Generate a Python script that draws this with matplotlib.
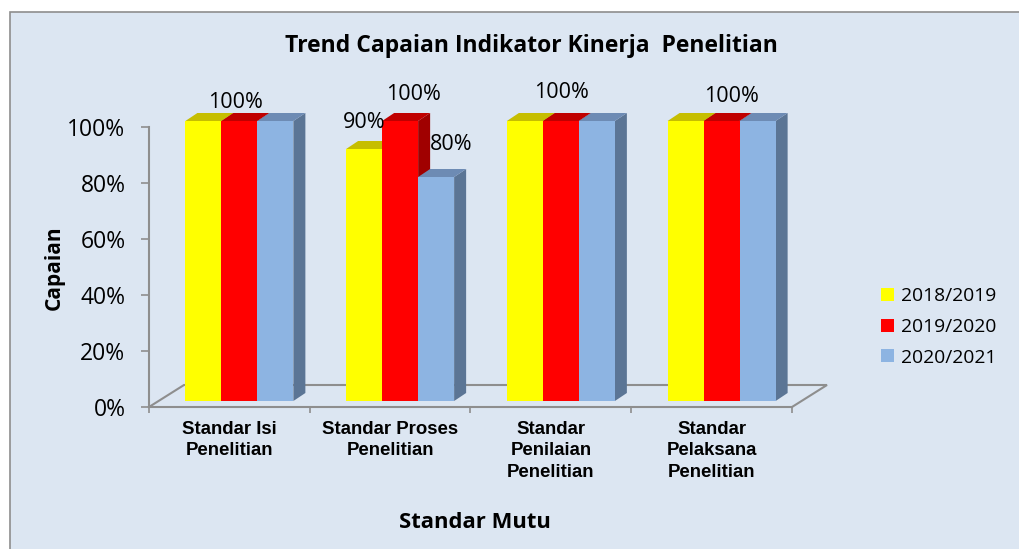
import matplotlib
matplotlib.use('Agg')
import matplotlib.pyplot as plt
from matplotlib.patches import Polygon, Rectangle, Patch

plt.rcParams['font.family'] = ['Open Sans', 'DejaVu Sans']

# data
categories = ['Standar Isi\nPenelitian', 'Standar Proses\nPenelitian',
              'Standar\nPenilaian\nPenelitian', 'Standar\nPelaksana\nPenelitian']
years = ['2018/2019', '2019/2020', '2020/2021']
v_1819 = [1.00, 0.90, 1.00, 1.00]
v_1920 = [1.00, 1.00, 1.00, 1.00]
v_2021 = [1.00, 0.80, 1.00, 1.00]
yticks = [0, 0.2, 0.4, 0.6, 0.8, 1.0]
ytick_labels = ['0%', '20%', '40%', '60%', '80%', '100%']

series = [v_1819, v_1920, v_2021]

# styles: front, top, side colours
colors = [('#FFFF00', '#C6BE00', '#A9A300'),
          ('#FF0000', '#C00000', '#A00000'),
          ('#8DB4E2', '#6D8BB4', '#5B7595')]
gray = '#8E8E8E'
bg = '#DCE6F2'

# which data labels are shown, with pixel offsets from the bar top
label_offsets = {(1, 0): (-4, 19), (0, 1): (0, 26), (1, 1): (13, 26),
                 (2, 1): (15, 32), (1, 2): (1, 28), (1, 3): (10, 25)}

W, H = 1019, 549
fig = plt.figure(figsize=(W / 100, H / 100), dpi=100)
fig.patch.set_facecolor('white')
fig.add_artist(Rectangle((10 / W, -0.05), 1.1, 1 - 12 / H + 0.05,
                         transform=fig.transFigure, facecolor=bg,
                         edgecolor=gray, linewidth=1.2, zorder=0))

ax = fig.add_axes([149 / W, (H - 407) / H, 643 / W, 280 / H])
ax.set_facecolor('none')
ax.set_xlim(0, 4)
ax.set_ylim(0, 1)

px = 4 / 643      # data x per pixel
py = 1 / 280      # data y per pixel

# floor depth and bar placement (pixels converted to data)
fdx, fdy = 35 * px, 22 * py
sx, sy = 10 * px, 6 * py
bdx, bdy = 12 * px, 8 * py
w = 36 * px

# floor outline
ax.plot([0, fdx, 4 + fdx, 4], [0, fdy, fdy, 0], color=gray, lw=1.5,
        clip_on=False, zorder=1, solid_joinstyle='miter')

for j, vals in enumerate(series):
    front, top, side = colors[j]
    for i, v in enumerate(vals):
        x0 = i + 0.5 - 1.5 * w + j * w + sx
        y0 = sy
        y1 = sy + v
        z = 3 + j
        ax.add_patch(Polygon([(x0 + w, y0), (x0 + w + bdx, y0 + bdy),
                              (x0 + w + bdx, y1 + bdy), (x0 + w, y1)],
                             closed=True, facecolor=side, edgecolor='none',
                             zorder=z, clip_on=False))
        ax.add_patch(Polygon([(x0, y1), (x0 + w, y1), (x0 + w + bdx, y1 + bdy),
                              (x0 + bdx, y1 + bdy)],
                             closed=True, facecolor=top, edgecolor='none',
                             zorder=z, clip_on=False))
        ax.add_patch(Rectangle((x0, y0), w, v, facecolor=front,
                               edgecolor='none', zorder=z, clip_on=False))
        if (j, i) in label_offsets:
            ox, oy = label_offsets[(j, i)]
            ax.annotate(f'{v:.0%}', xy=(x0 + w / 2, y1), xytext=(ox, oy),
                        textcoords='offset pixels', ha='center', va='center',
                        fontsize=15.5, zorder=10, annotation_clip=False)

for s in ['top', 'right']:
    ax.spines[s].set_visible(False)
for s in ['left', 'bottom']:
    ax.spines[s].set_color(gray)
    ax.spines[s].set_linewidth(1.5)

ax.set_yticks(yticks, ytick_labels)
ax.tick_params(axis='y', length=6, width=1.2, color=gray, pad=11,
               labelsize=16.5)
ax.set_xticks([0, 1, 2, 3, 4], [''] * 5)
ax.set_xticks([0.5, 1.5, 2.5, 3.5], categories, minor=True)
ax.tick_params(axis='x', which='major', length=4, width=1.2, color=gray)
ax.tick_params(axis='x', which='minor', length=0, pad=10)
for lab in ax.get_xticklabels(minor=True):
    lab.set_fontfamily('Liberation Sans')
    lab.set_fontweight('bold')
    lab.set_fontsize(13.4)
    lab.set_linespacing(1.35)

fig.text(531 / W, 1 - 46 / H, 'Trend Capaian Indikator Kinerja  Penelitian',
         ha='center', va='center', fontsize=16.5, fontweight='bold')
fig.text(54 / W, 1 - 268 / H, 'Capaian', rotation=90, ha='center',
         va='center', fontsize=15, fontweight='bold')
fig.text(475 / W, 1 - 522 / H, 'Standar Mutu', ha='center', va='center',
         fontsize=15.8, fontweight='bold')

handles = [Patch(facecolor=c[0], edgecolor='none') for c in colors]
fig.legend(handles, years, loc='center left',
           bbox_to_anchor=(864 / W, 1 - 327 / H), frameon=False,
           fontsize=13.9, handlelength=0.65, handleheight=0.65,
           handletextpad=0.35, labelspacing=0.65)

fig.savefig('out.png', dpi=100)
